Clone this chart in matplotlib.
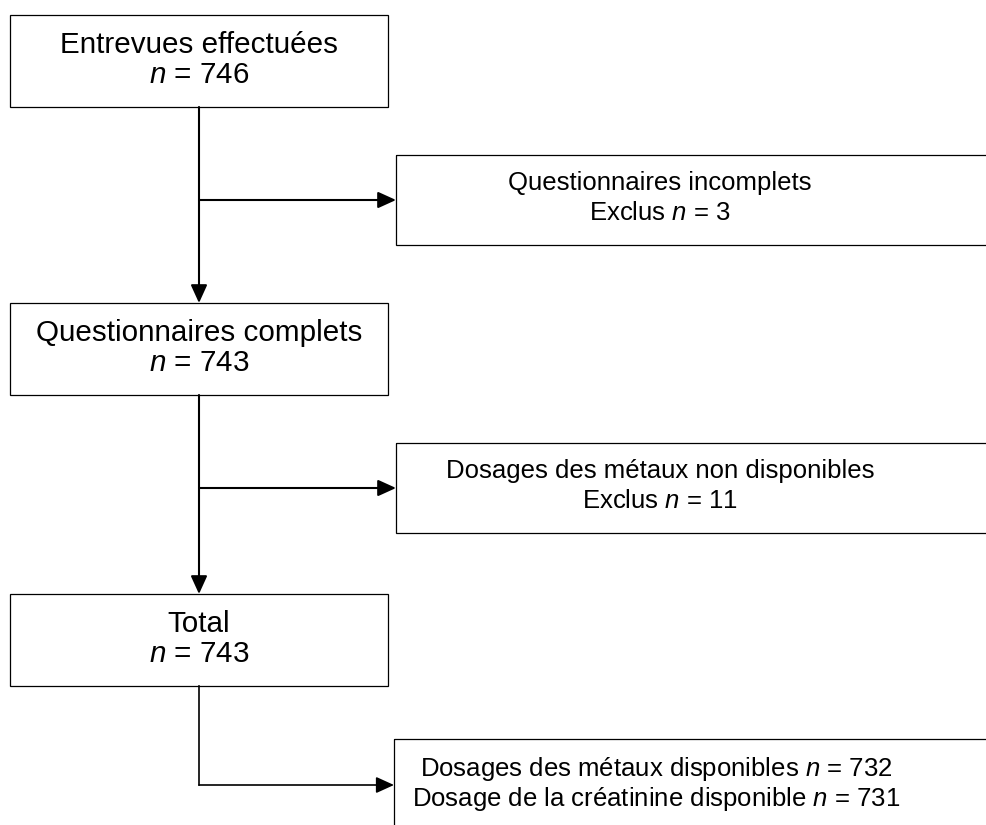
import matplotlib as mpl
mpl.use('Agg')
import matplotlib.pyplot as plt
from matplotlib.patches import Rectangle

plt.rcParams['font.family'] = ['Liberation Sans', 'DejaVu Sans']
plt.rcParams['mathtext.fontset'] = 'custom'
plt.rcParams['mathtext.rm'] = 'Liberation Sans'
plt.rcParams['mathtext.it'] = 'Liberation Sans:italic'

# flow steps (left column) and exclusions (right column)
step_labels = ["Entrevues effectuées", "Questionnaires complets", "Total"]
step_n = [746, 743, 743]
excl_labels = ["Questionnaires incomplets", "Dosages des métaux non disponibles"]
excl_n = [3, 11]
final_labels = ["Dosages des métaux disponibles", "Dosage de la créatinine disponible"]
final_n = [732, 731]

FS_LEFT = 21.3
FS_RIGHT = 18.5

fig = plt.figure(figsize=(9.87, 8.25), dpi=100)
ax = fig.add_axes([0, 0, 1, 1])
ax.set_xlim(0, 987)
ax.set_ylim(825, 0)
ax.axis('off')

# layout in pixel units
left_x0, left_x1 = 10, 388
trunk_x = 199
step_tops = [15, 303, 594]
box_h = 92
right_x0 = 396
excl_tops = [155, 443]
excl_h = 90
final_top = 739
final_x0 = 394
text_cx = 660

def box(x0, y0, w, h):
  ax.add_patch(Rectangle((x0, y0), w, h, fill=False, ec='black', lw=0.9))

def arrow(x0, y0, x1, y1, lw=1.5):
  ax.annotate("", xy=(x1, y1), xytext=(x0, y0),
              arrowprops=dict(arrowstyle="-|>,head_length=1.1,head_width=0.5",
                              color='black', lw=lw, shrinkA=0, shrinkB=0))

for top, lab, n in zip(step_tops, step_labels, step_n):
  box(left_x0, top, left_x1 - left_x0, box_h)
  ax.text(trunk_x, top + box_h / 2 - 1, lab + "\n$n$ = %d" % n,
          ha='center', va='center', fontsize=FS_LEFT, linespacing=1.12)

for top, lab, n in zip(excl_tops, excl_labels, excl_n):
  box(right_x0, top, 700, excl_h)
  ax.text(text_cx, top + excl_h / 2 - 2, lab + "\nExclus $n$ = %d" % n,
          ha='center', va='center', fontsize=FS_RIGHT, linespacing=1.28)

box(final_x0, final_top, 700, 200)
ax.text(656, 784, "%s $n$ = %d\n%s $n$ = %d" % (final_labels[0], final_n[0], final_labels[1], final_n[1]),
        ha='center', va='center', fontsize=FS_RIGHT, linespacing=1.1)

# trunk arrows
arrow(trunk_x, step_tops[0] + box_h, trunk_x, step_tops[1])
arrow(trunk_x, step_tops[1] + box_h, trunk_x, step_tops[2])
# branch arrows to exclusions
for top in excl_tops:
  arrow(trunk_x, top + excl_h / 2, right_x0, top + excl_h / 2)

# elbow from Total to final box
yb = 785
ax.plot([trunk_x, trunk_x], [step_tops[2] + box_h, yb], color='black', lw=1.2, solid_capstyle='projecting')
arrow(trunk_x, yb, final_x0, yb, lw=1.2)

plt.savefig("out.png", dpi=100)
plt.close(fig)
